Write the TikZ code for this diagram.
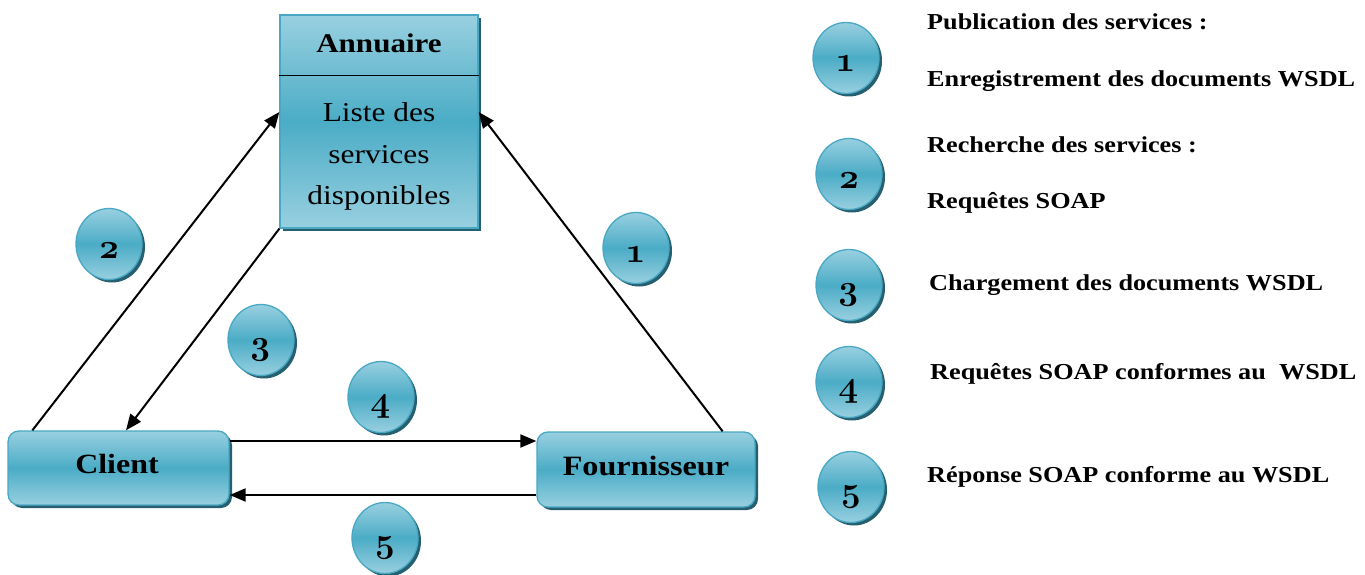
\documentclass[tikz,border=0pt]{standalone}
\usepackage{fontspec}
\setmainfont[FakeStretch=1.15]{Liberation Serif}
\newfontfamily\numfont[Numbers=OldStyle]{Latin Modern Roman}
\usetikzlibrary{arrows.meta,shadows,shapes.geometric}

\definecolor{aqLight}{RGB}{152,208,224}
\definecolor{aqDark}{RGB}{75,172,198}
\definecolor{aqEdge}{RGB}{72,168,196}
\definecolor{aqShadow}{RGB}{38,96,112}

\begin{document}
\begin{tikzpicture}[x=1pt,y=-1pt,
  shaded/.style={draw=aqEdge, line width=1.3pt,
    top color=aqLight, bottom color=aqLight, middle color=aqDark,
    drop shadow={shadow xshift=3pt, shadow yshift=-3pt, fill=aqShadow, opacity=1}},
  panel/.style={shaded, rectangle, inner sep=0pt},
  actor/.style={shaded, rectangle, rounded corners=11pt, inner sep=0pt},
  caption/.style={anchor=base, inner sep=0pt},
  bubble/.style={shaded, ellipse, minimum width=66pt, minimum height=71pt, inner sep=0pt,
    font=\numfont\fontsize{35}{36}\selectfont\bfseries, text height=28pt, text depth=0pt},
  legend/.style={anchor=base west, inner sep=0pt, font=\fontsize{22.8}{26}\selectfont\bfseries},
  flow/.style={draw=black, line width=2pt, -{Triangle[length=16pt,width=13pt]}}]

\useasboundingbox (0,0) rectangle (1365,575);

% directory of services
\node[panel, minimum width=198pt, minimum height=213pt] (annuaire) at (379,121.5) {};
\draw[black, line width=1.5pt] ([yshift=-61pt]annuaire.north west) -- ([yshift=-61pt]annuaire.north east);
\node[caption, font=\fontsize{27}{30}\selectfont\bfseries] (atitle) at (379,53) {Annuaire};
\node[caption, font=\fontsize{27.3}{30}\selectfont] (aline1) at (379,122) {Liste des};
\node[caption, font=\fontsize{27.3}{30}\selectfont] (aline2) at (379,163) {services};
\node[caption, font=\fontsize{27.3}{30}\selectfont] (aline3) at (379,204) {disponibles};

% the two parties
\node[actor, minimum width=221pt, minimum height=74pt] (client) at (118.5,468) {};
\node[caption, font=\fontsize{27.8}{30}\selectfont\bfseries] (clienttxt) at (117,473) {Client};
\node[actor, minimum width=218pt, minimum height=75pt] (fourn) at (646,469.5) {};
\node[caption, font=\fontsize{28}{30}\selectfont\bfseries] (fourntxt) at (646,475) {Fournisseur};

% exchanges
\draw[flow] ([xshift=25pt]client.north west) -- ([yshift=9.5pt]annuaire.west);
\draw[flow] (annuaire.south west) -- ([xshift=7.5pt]client.north);
\draw[flow] ([xshift=-33pt]fourn.north east) -- ([yshift=9.5pt]annuaire.east);
\draw[flow] ([yshift=27pt]client.east) -- ([yshift=27pt]client.east -| fourn.west);
\draw[flow] ([yshift=-27pt]client.east -| fourn.west) -- ([yshift=-27pt]client.east);

% step markers on the diagram
\node[bubble] (d1) at (636,248) {1};
\node[bubble] (d2) at (109,244) {2};
\node[bubble] (d3) at (261,340) {3};
\node[bubble] (d4) at (381,397) {4};
\node[bubble] (d5) at (385,538) {5};

% legend
\node[bubble] (l1) at (846,58) {1};
\node[bubble] (l2) at (849,174) {2};
\node[bubble] (l3) at (849,285) {3};
\node[bubble] (l4) at (849,382) {4};
\node[bubble] (l5) at (851,487) {5};

\node[legend] (t1a) at (927,30) {Publication des services :};
\node[legend] (t1b) at (927,87) {Enregistrement des documents WSDL};
\node[legend] (t2a) at (927,153) {Recherche des services :};
\node[legend] (t2b) at (927,208) {Requêtes SOAP};
\node[legend] (t3) at (929,290) {Chargement des documents WSDL};
\node[legend] (t4) at (930,379) {Requêtes SOAP conformes au\ \ WSDL};
\node[legend] (t5) at (927,482) {Réponse SOAP conforme au WSDL};
\end{tikzpicture}
\end{document}
